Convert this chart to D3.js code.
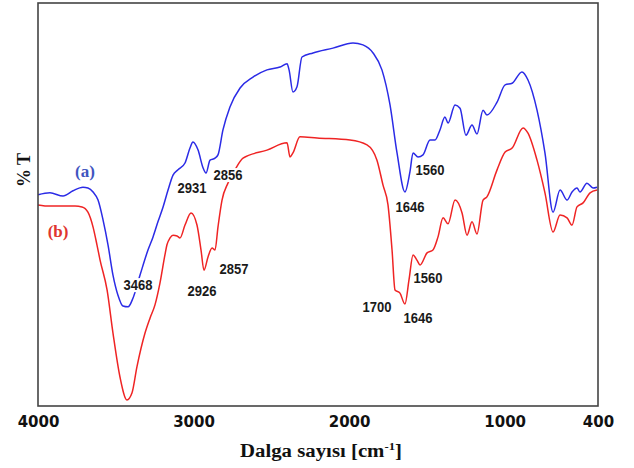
<!DOCTYPE html>
<html>
<head>
<meta charset="utf-8">
<script src="https://cdn.jsdelivr.net/npm/d3@7"></script>
<style>
  body { margin: 0; background: #fff; }
  svg { display: block; }
</style>
</head>
<body>
<svg width="634" height="468"></svg>
<script>
// wavenumber (cm-1) and %T
const waveA = [4000, 3923, 3839, 3775, 3711, 3679, 3646, 3614, 3582, 3550, 3518, 3486, 3454, 3421, 3389, 3344, 3293, 3261, 3229, 3196, 3164, 3132, 3100, 3055, 3023, 3004, 2971, 2939, 2920, 2894, 2862, 2843, 2811, 2766, 2701, 2618, 2528, 2444, 2399, 2386, 2361, 2335, 2303, 2232, 2104, 1975, 1911, 1846, 1789, 1737, 1692, 1641, 1609, 1589, 1557, 1525, 1480, 1448, 1416, 1384, 1364, 1319, 1287, 1249, 1210, 1178, 1139, 1114, 1049, 997, 952, 889, 850, 792, 741, 689, 644, 599, 567, 535, 516, 471, 432, 406];
const transA = [52.4, 52.9, 52.1, 53.4, 54.3, 54.1, 53.1, 51.1, 46.2, 40.0, 32.5, 27.5, 24.8, 24.6, 26.8, 32.5, 38.7, 41.9, 45.7, 49.4, 53.6, 57.3, 58.6, 60.3, 64.0, 65.5, 63.5, 59.1, 57.8, 61.0, 61.5, 62.3, 68.5, 74.2, 78.9, 81.6, 83.4, 84.1, 84.9, 83.4, 77.9, 79.2, 86.6, 87.6, 88.8, 90.1, 89.6, 87.6, 83.4, 74.7, 62.8, 53.1, 58.1, 62.8, 61.8, 62.3, 66.0, 66.0, 68.5, 71.7, 70.2, 74.7, 73.9, 67.2, 69.7, 67.5, 73.4, 72.2, 75.4, 79.7, 80.1, 82.9, 80.9, 73.4, 62.8, 48.1, 53.6, 51.1, 53.1, 54.1, 53.1, 55.3, 54.1, 54.3];

const waveB = [4000, 3923, 3839, 3762, 3717, 3679, 3646, 3621, 3601, 3556, 3518, 3473, 3428, 3396, 3364, 3312, 3280, 3248, 3216, 3184, 3171, 3151, 3132, 3106, 3087, 3055, 3016, 2978, 2952, 2933, 2907, 2881, 2862, 2843, 2817, 2779, 2734, 2682, 2528, 2399, 2380, 2361, 2316, 2206, 1994, 1885, 1821, 1782, 1750, 1724, 1705, 1673, 1641, 1615, 1589, 1564, 1544, 1499, 1461, 1429, 1396, 1364, 1319, 1274, 1242, 1210, 1178, 1139, 1114, 1049, 997, 952, 882, 850, 792, 741, 689, 644, 599, 567, 535, 496, 451, 406];
const transB = [49.9, 49.6, 49.6, 49.6, 49.4, 48.1, 44.4, 40.0, 36.2, 28.8, 18.1, 7.2, 1.5, 3.2, 9.7, 18.1, 21.8, 25.1, 30.5, 37.5, 40.0, 41.7, 42.4, 42.2, 41.7, 44.9, 47.9, 44.9, 38.7, 33.7, 37.0, 39.2, 38.7, 44.4, 51.1, 55.3, 58.6, 61.5, 63.5, 65.3, 61.8, 62.8, 66.8, 66.5, 66.0, 64.8, 61.0, 54.8, 49.9, 38.7, 28.8, 28.0, 25.3, 31.3, 37.5, 36.2, 35.0, 38.0, 38.7, 41.9, 46.7, 45.2, 51.1, 47.9, 42.4, 45.7, 42.7, 51.1, 51.9, 58.6, 63.0, 64.0, 69.0, 67.7, 61.0, 52.9, 43.2, 47.4, 46.7, 44.9, 49.4, 50.4, 52.9, 53.6];

const tickLabels = [4000, 3000, 2000, 1000, 400];

// peak labels: text, wavenumber, %T where the label sits
const peakText = ["3468", "2931", "2856", "2926", "2857", "1646", "1560", "1700", "1646", "1560"];
const peakWave = [3357, 3010, 2779, 2946, 2740, 1609, 1480, 1821, 1557, 1493];
const peakTrans = [30.0, 54.1, 57.3, 28.5, 34.0, 49.4, 58.6, 24.6, 21.8, 31.8];

const seriesNames = ["(a)", "(b)"];
const seriesWave = [3698, 3871];
const seriesTrans = [58.1, 43.2];

const svg = d3.select("svg"),
  margin = { top: 3, right: 36, bottom: 62, left: 38 },
  width = +svg.attr("width") - margin.left - margin.right,
  height = +svg.attr("height") - margin.top - margin.bottom;

const x = d3.scaleLinear().domain([4000, 400]).range([margin.left, margin.left + width]);
const y = d3.scaleLinear().domain([0, 100]).range([margin.top + height, margin.top]);

const lineColors = ["#2b2be6", "#ef2424"],
  nameColors = ["#3f55c0", "#e0352f"];

const line = d3
  .line()
  .x((d) => x(d[0]))
  .y((d) => y(d[1]))
  .curve(d3.curveMonotoneX);

const spectra = [d3.zip(waveA, transA), d3.zip(waveB, transB)];

svg
  .append("g")
  .selectAll("path")
  .data(spectra)
  .join("path")
  .attr("d", line)
  .attr("fill", "none")
  .attr("stroke", (d, i) => lineColors[i])
  .attr("stroke-width", 1.5)
  .attr("stroke-linejoin", "round");

// frame
svg
  .append("rect")
  .attr("x", margin.left)
  .attr("y", margin.top)
  .attr("width", width)
  .attr("height", height)
  .attr("fill", "none")
  .attr("stroke", "#444")
  .attr("stroke-width", 1.6);

// x axis
const xAxis = svg
  .append("g")
  .attr("transform", `translate(0,${margin.top + height})`)
  .call(d3.axisBottom(x).tickValues(tickLabels).tickSize(0).tickPadding(10).tickFormat(d3.format("d")));
xAxis.select(".domain").remove();
xAxis
  .selectAll("text")
  .attr("font-family", "DejaVu Sans")
  .attr("font-weight", "bold")
  .attr("font-size", 15)
  .attr("fill", "#111");

// axis titles
const xTitle = svg
  .append("text")
  .attr("x", 240)
  .attr("y", 457)
  .attr("font-family", "Liberation Serif")
  .attr("font-weight", "bold")
  .attr("font-size", 18)
  .attr("fill", "#111")
  .attr("textLength", 162)
  .attr("lengthAdjust", "spacingAndGlyphs");
xTitle.append("tspan").text("Dalga sayısı [cm");
xTitle.append("tspan").attr("dy", -7).attr("font-size", 11).text("-1");
xTitle.append("tspan").attr("dy", 7).text("]");

svg
  .append("text")
  .attr("transform", "translate(24,170) rotate(-90)")
  .attr("text-anchor", "middle")
  .attr("dominant-baseline", "central")
  .attr("font-family", "Liberation Serif")
  .attr("font-weight", "bold")
  .attr("font-size", 18)
  .attr("fill", "#111")
  .text("% T");

// series names
svg
  .append("g")
  .selectAll("text")
  .data(seriesNames)
  .join("text")
  .attr("x", (d, i) => x(seriesWave[i]))
  .attr("y", (d, i) => y(seriesTrans[i]))
  .attr("text-anchor", "middle")
  .attr("dominant-baseline", "central")
  .attr("font-family", "Liberation Serif")
  .attr("font-weight", "bold")
  .attr("font-size", 17)
  .attr("fill", (d, i) => nameColors[i])
  .text((d) => d);

// peak labels, white box behind hides the line like in the original
const peaks = svg
  .append("g")
  .selectAll("g")
  .data(peakText)
  .join("g")
  .attr("transform", (d, i) => `translate(${x(peakWave[i])},${y(peakTrans[i])})`);
peaks
  .append("text")
  .attr("text-anchor", "middle")
  .attr("dominant-baseline", "central")
  .attr("font-family", "Liberation Sans")
  .attr("font-weight", "bold")
  .attr("font-size", 14.5)
  .attr("textLength", 29)
  .attr("lengthAdjust", "spacingAndGlyphs")
  .attr("fill", "#1a1a1a")
  .text((d) => d);
peaks.each(function () {
  const g = d3.select(this),
    b = g.select("text").node().getBBox();
  g.insert("rect", "text")
    .attr("x", b.x)
    .attr("y", b.y + 1)
    .attr("width", b.width)
    .attr("height", b.height - 2)
    .attr("fill", "#fff");
});
</script>
</body>
</html>
